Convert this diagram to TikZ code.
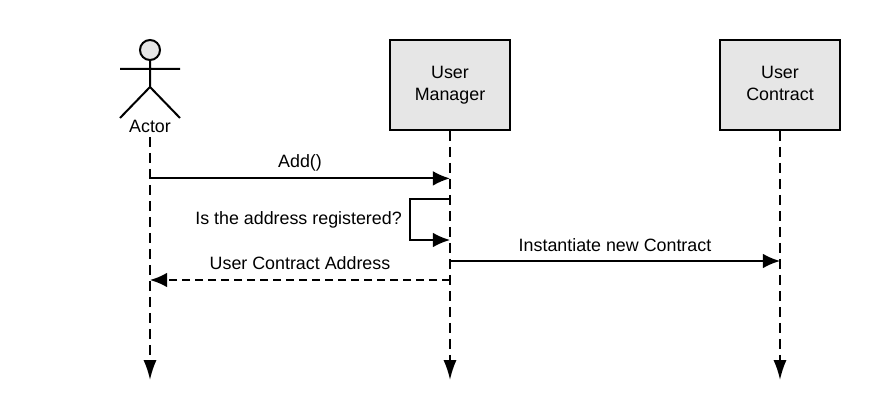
\documentclass[tikz,border=0pt]{standalone}
\usepackage{fontspec}
\setmainfont{Liberation Sans}
\usetikzlibrary{arrows.meta}
\definecolor{boxgray}{HTML}{E6E6E6}
\tikzset{
    lifebox/.style={draw,fill=boxgray,line width=0.05cm,minimum width=3cm,minimum height=2.25cm,align=center,font=\fontsize{12.7}{15.6}\selectfont},
    msglabel/.style={font=\fontsize{12.7}{15}\selectfont,inner sep=0pt},
    limb/.style={line width=0.05cm},
    lifeline/.style={line width=0.05cm,dash pattern=on 0.25cm off 0.15cm,-{Latex[length=0.5cm,width=0.33cm]}},
    msg/.style={line width=0.05cm,-{Latex[length=0.43cm,width=0.37cm]}},
    reply/.style={msg,dash pattern=on 0.2cm off 0.125cm}
}
\begin{document}
\begin{tikzpicture}
    \useasboundingbox (0,0) rectangle (22,-10.425);
    % actor
    \node[draw,circle,fill=boxgray,line width=0.05cm,minimum size=0.5cm,inner sep=0pt] (head) at (3.75,-1.25) {};
    \coordinate (neck) at (3.75,-2.175);
    \coordinate (armL) at (3,-1.725);
    \coordinate (armR) at (4.5,-1.725);
    \coordinate (legL) at (3,-2.95);
    \coordinate (legR) at (4.5,-2.95);
    \draw[limb] (head)--(neck) (armL)--(armR) (legL)--(neck)--(legR);
    \node[msglabel] (actor) at (3.75,-3.17) {Actor};
    % boxes
    \node[lifebox] (manager) at (11.25,-2.125) {\strut User\\Manager\strut};
    \node[lifebox] (contract) at (19.5,-2.125) {\strut User\\Contract\strut};
    % lifelines
    \coordinate (actorTop) at (3.75,-3.42);
    \coordinate (actorEnd) at (3.75,-9.5);
    \coordinate (managerEnd) at (11.25,-9.5);
    \coordinate (contractEnd) at (19.5,-9.5);
    \draw[lifeline] (actorTop)--(actorEnd);
    \draw[lifeline] (manager)--(managerEnd);
    \draw[lifeline] (contract)--(contractEnd);
    % messages
    \coordinate (a1) at (3.75,-4.46);
    \coordinate (m1) at (11.25,-4.46);
    \coordinate (m2) at (11.25,-4.985);
    \coordinate (m3) at (11.25,-6);
    \coordinate (m4) at (11.25,-6.525);
    \coordinate (c4) at (19.5,-6.525);
    \coordinate (m5) at (11.25,-7);
    \coordinate (a5) at (3.75,-7);
    \coordinate (s2) at (10.25,-4.985);
    \coordinate (s3) at (10.25,-6);
    \draw[msg] (a1)--(m1);
    \draw[msg] (m2)--(s2)--(s3)--(m3);
    \draw[msg] (m4)--(c4);
    \draw[reply] (m5)--(a5);
    \node[msglabel] (add) at (7.5,-4.07) {Add()};
    \node[msglabel,left] (registered) at (10.05,-5.5) {Is the address registered?};
    \node[msglabel] (instantiate) at (15.375,-6.12) {Instantiate new Contract};
    \node[msglabel] (address) at (7.5,-6.57) {User Contract Address};
\end{tikzpicture}
\end{document}
